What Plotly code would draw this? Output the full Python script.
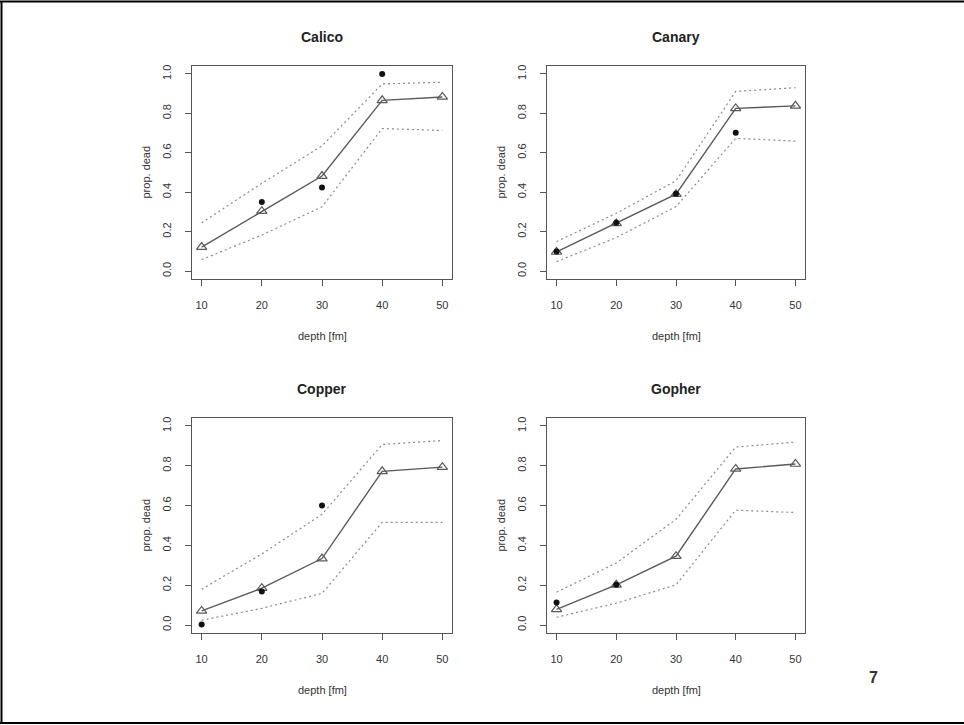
import plotly.graph_objects as go

# ---------------- data ----------------
depth = [10, 20, 30, 40, 50]
species = ["Calico", "Canary", "Copper", "Gopher"]

calico_fit = [0.122, 0.304, 0.482, 0.866, 0.883]
calico_obs = [None, 0.350, 0.424, 1.000, None]
calico_up = [0.245, 0.445, 0.635, 0.949, 0.958]
calico_lo = [0.058, 0.183, 0.326, 0.723, 0.713]

canary_fit = [0.097, 0.242, 0.390, 0.825, 0.838]
canary_obs = [0.100, 0.245, 0.392, 0.702, None]
canary_up = [0.150, 0.293, 0.458, 0.911, 0.930]
canary_lo = [0.048, 0.170, 0.327, 0.673, 0.659]

copper_fit = [0.071, 0.185, 0.334, 0.772, 0.793]
copper_obs = [0.003, 0.169, 0.600, None, None]
copper_up = [0.180, 0.357, 0.556, 0.907, 0.927]
copper_lo = [0.024, 0.084, 0.159, 0.516, 0.516]

gopher_fit = [0.079, 0.202, 0.346, 0.784, 0.809]
gopher_obs = [0.113, 0.202, None, None, None]
gopher_up = [0.165, 0.312, 0.531, 0.894, 0.919]
gopher_lo = [0.039, 0.110, 0.202, 0.577, 0.565]

x_ticks = [10, 20, 30, 40, 50]
y_ticks = [0.0, 0.2, 0.4, 0.6, 0.8, 1.0]
x_title = "depth [fm]"
y_title = "prop. dead"
page_number = "7"

fits = [calico_fit, canary_fit, copper_fit, gopher_fit]
obss = [calico_obs, canary_obs, copper_obs, gopher_obs]
ups = [calico_up, canary_up, copper_up, gopher_up]
los = [calico_lo, canary_lo, copper_lo, gopher_lo]

# ---------------- layout geometry (pixels) ----------------
W, H = 964, 725
boxes = [  # x0, x1, y0(top), y1(bottom)
    (192, 452, 66, 279),
    (547, 805, 66, 279),
    (192, 452, 418, 633),
    (547, 805, 418, 633),
]

FONT = "Liberation Sans, Arial, sans-serif"
fig = go.Figure()
annotations = []

for i, name in enumerate(species):
    xa = "x" if i == 0 else f"x{i+1}"
    ya = "y" if i == 0 else f"y{i+1}"
    x0, x1, y0, y1 = boxes[i]

    for band in (ups[i], los[i]):
        fig.add_trace(go.Scatter(
            x=depth, y=band, mode="lines", xaxis=xa, yaxis=ya,
            line=dict(color="#8a8a8a", width=1.2, dash="2px,3px"),
            showlegend=False, hoverinfo="skip"))
    fig.add_trace(go.Scatter(
        x=depth, y=fits[i], mode="lines+markers", xaxis=xa, yaxis=ya,
        line=dict(color="#5a5a5a", width=1.4),
        marker=dict(symbol="triangle-up-open", size=9, color="#5a5a5a",
                    line=dict(width=1.2, color="#5a5a5a")),
        showlegend=False))
    fig.add_trace(go.Scatter(
        x=depth, y=obss[i], mode="markers", xaxis=xa, yaxis=ya,
        marker=dict(symbol="circle", size=6, color="#111111"),
        showlegend=False))

    common = dict(showline=True, mirror=True, linecolor="#555555", linewidth=1.2,
                  ticks="outside", ticklen=6, tickwidth=1, tickcolor="#555555",
                  showgrid=False, zeroline=False,
                  tickfont=dict(family=FONT, size=11, color="#333333"))
    xkey = "xaxis" if i == 0 else f"xaxis{i+1}"
    ykey = "yaxis" if i == 0 else f"yaxis{i+1}"
    fig.update_layout({
        xkey: dict(domain=[x0 / W, x1 / W], anchor=ya, range=[8.4, 51.6],
                   tickvals=x_ticks, ticklabelstandoff=10, **common),
        ykey: dict(domain=[1 - y1 / H, 1 - y0 / H], anchor=xa, range=[-0.04, 1.04],
                   tickvals=y_ticks, tickformat=".1f", tickangle=-90,
                   ticklabelstandoff=10, **common),
    })

    cx = (x0 + x1) / 2
    annotations.append(dict(x=cx / W, y=1 - (y0 - 29) / H, xref="paper", yref="paper",
                            text=f"<b>{name}</b>", showarrow=False,
                            font=dict(family=FONT, size=14, color="#222222"),
                            xanchor="center", yanchor="middle"))
    annotations.append(dict(x=cx / W, y=1 - (y1 + 57) / H, xref="paper", yref="paper",
                            text=x_title, showarrow=False,
                            font=dict(family=FONT, size=11, color="#333333"),
                            xanchor="center", yanchor="middle"))
    annotations.append(dict(x=(x0 - 47) / W, y=1 - ((y0 + y1) / 2) / H,
                            xref="paper", yref="paper", text=y_title, showarrow=False,
                            textangle=-90,
                            font=dict(family=FONT, size=11, color="#333333"),
                            xanchor="center", yanchor="middle"))

annotations.append(dict(x=873 / W, y=1 - 677 / H, xref="paper", yref="paper",
                        text=f"<b>{page_number}</b>", showarrow=False,
                        font=dict(family=FONT, size=16, color="#333333"),
                        xanchor="center", yanchor="middle"))

shapes = [
    dict(type="line", xref="paper", yref="paper", x0=1.5 / W, x1=1.5 / W,
         y0=1 - 1.5 / H, y1=1 - 723 / H, line=dict(color="black", width=2)),
    dict(type="line", xref="paper", yref="paper", x0=0, x1=1,
         y0=1 - 1.5 / H, y1=1 - 1.5 / H, line=dict(color="black", width=2)),
    dict(type="line", xref="paper", yref="paper", x0=0, x1=1,
         y0=1 - 723 / H, y1=1 - 723 / H, line=dict(color="black", width=2)),
]

fig.update_layout(width=W, height=H, margin=dict(l=0, r=0, t=0, b=0),
                  paper_bgcolor="white", plot_bgcolor="white",
                  annotations=annotations, shapes=shapes, showlegend=False)

fig.write_html("out.html", config={"displayModeBar": False},
               post_script="document.body.style.margin='0px';"
                           "document.body.style.overflow='hidden';")
